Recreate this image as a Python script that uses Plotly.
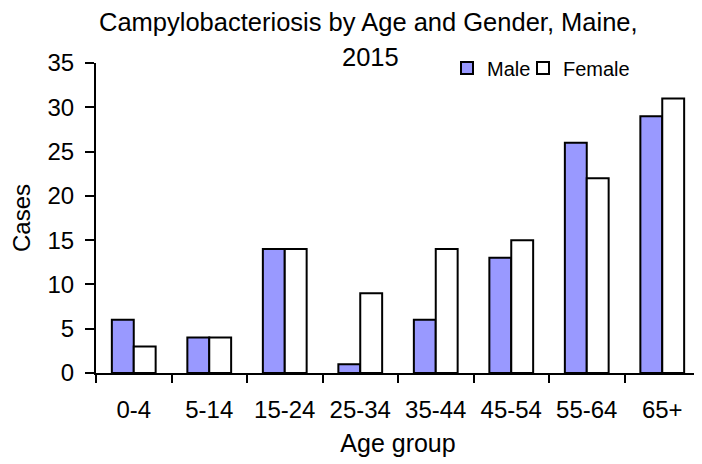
import plotly.graph_objects as go

age_groups = ["0-4", "5-14", "15-24", "25-34", "35-44", "45-54", "55-64", "65+"]
male_cases = [6, 4, 14, 1, 6, 13, 26, 29]
female_cases = [3, 4, 14, 9, 14, 15, 22, 31]

FONT = "Liberation Sans, Arial, sans-serif"

# The page body has an 8px default margin, so the figure is 8px smaller than the window.
W, H = 694, 456
L, R, T, B = 88, 2, 55, 91
PW, PH = W - L - R, H - T - B


def px_x(sx):
    return (sx - 8 - L) / PW


def px_y(sy):
    return 1 + (T - (sy - 8)) / PH


fig = go.Figure()
fig.add_trace(go.Bar(x=age_groups, y=male_cases, name="Male", legend="legend",
                     marker=dict(color="#9999FF", line=dict(color="black", width=2))))
fig.add_trace(go.Bar(x=age_groups, y=female_cases, name="Female", legend="legend2",
                     marker=dict(color="white", line=dict(color="black", width=2))))

legend_style = dict(orientation="h", xanchor="left", yanchor="middle",
                    font=dict(size=20), bgcolor="rgba(0,0,0,0)", itemwidth=30)

fig.update_layout(
    width=W, height=H,
    margin=dict(l=L, r=R, t=T, b=B),
    paper_bgcolor="white", plot_bgcolor="white",
    font=dict(family=FONT, size=24, color="black"),
    barmode="group", bargap=0.42, bargroupgap=0,
    showlegend=True,
    legend=dict(x=px_x(447), y=px_y(68), **legend_style),
    legend2=dict(x=px_x(523), y=px_y(68), **legend_style),
    annotations=[
        dict(text="Campylobacteriosis by Age and Gender, Maine,", xref="paper", yref="paper",
             x=px_x(368), y=px_y(21.5), xanchor="center", yanchor="middle",
             showarrow=False, font=dict(size=25.5)),
        dict(text="2015", xref="paper", yref="paper",
             x=px_x(370), y=px_y(57), xanchor="center", yanchor="middle",
             showarrow=False, font=dict(size=25.5)),
    ],
)
fig.update_xaxes(range=[-0.5, 7.5], showline=True, linecolor="black", linewidth=2,
                 ticks="outside", tickson="boundaries", ticklen=8, tickcolor="black",
                 tickwidth=2, showgrid=False, tickfont=dict(size=24),
                 ticklabelstandoff=14,
                 title=dict(text="Age group", font=dict(size=25), standoff=13))
fig.update_yaxes(range=[0, 35], dtick=5, showline=True, linecolor="black", linewidth=2,
                 ticks="outside", ticklen=9, tickcolor="black", tickwidth=2,
                 showgrid=False, zeroline=False, tickfont=dict(size=24),
                 ticklabelstandoff=6,
                 title=dict(text="Cases", font=dict(size=24), standoff=12))

fig.write_html("out.html")
